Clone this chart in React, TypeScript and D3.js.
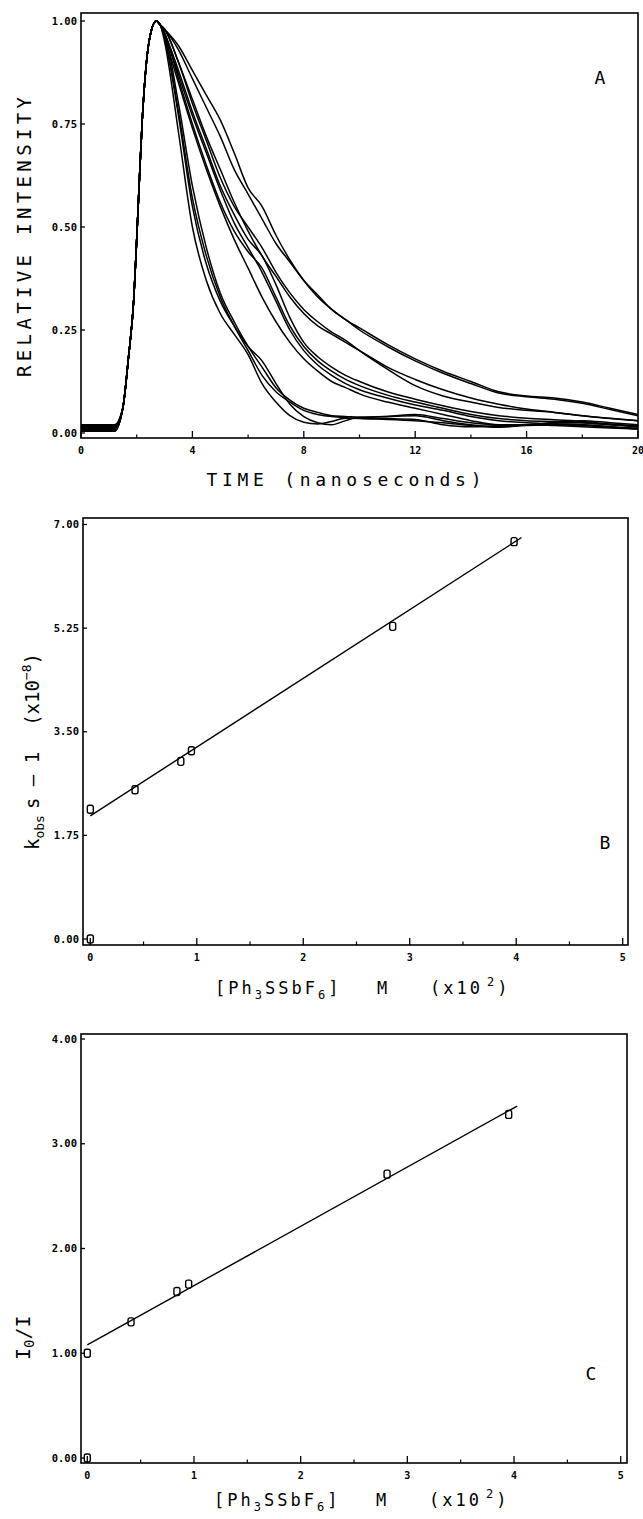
import * as d3 from "d3";

const W = 643;
const H = 1519;
const mono = "'DejaVu Sans Mono', monospace";

// ---- panel A: fluorescence decays ----
const riseTimes = [1.2, 1.5, 1.7, 1.9, 2.0, 2.1, 2.2, 2.35, 2.5, 2.7];
const riseValues = [null, 0.06, 0.18, 0.33, 0.47, 0.62, 0.76, 0.9, 0.97, 1.0];
const baselines = [0.005, 0.018, 0.008, 0.012, 0.004, 0.015, 0.01, 0.006, 0.02, 0.009, 0.007, 0.013];
const decayTimes = [2.85, 3, 3.5, 4, 4.5, 5, 5.5, 6, 6.5, 7, 7.5, 8, 8.5, 9, 9.5, 10, 11, 12, 13, 14, 15, 16, 17, 18, 19, 20];
const decays = [
  [0.99, 0.95, 0.73, 0.5, 0.37, 0.29, 0.24, 0.19, 0.12, 0.075, 0.042, 0.026, 0.022, 0.028, 0.036, 0.036, 0.035, 0.033, 0.02, 0.015, 0.018, 0.02, 0.018, 0.015, 0.012, 0.01],
  [0.99, 0.96, 0.77, 0.55, 0.41, 0.32, 0.26, 0.21, 0.175, 0.12, 0.07, 0.04, 0.025, 0.02, 0.03, 0.038, 0.04, 0.042, 0.03, 0.02, 0.015, 0.02, 0.022, 0.02, 0.015, 0.01],
  [0.99, 0.96, 0.78, 0.57, 0.43, 0.33, 0.26, 0.2, 0.14, 0.1, 0.075, 0.055, 0.045, 0.04, 0.037, 0.035, 0.033, 0.03, 0.025, 0.018, 0.014, 0.018, 0.02, 0.018, 0.014, 0.012],
  [0.99, 0.97, 0.8, 0.6, 0.45, 0.34, 0.27, 0.21, 0.16, 0.11, 0.08, 0.06, 0.05, 0.042, 0.04, 0.038, 0.04, 0.045, 0.035, 0.025, 0.02, 0.02, 0.025, 0.03, 0.025, 0.02],
  [0.99, 0.97, 0.87, 0.77, 0.68, 0.59, 0.51, 0.45, 0.39, 0.32, 0.25, 0.2, 0.165, 0.14, 0.12, 0.105, 0.085, 0.068, 0.055, 0.04, 0.03, 0.025, 0.022, 0.02, 0.015, 0.01],
  [0.99, 0.97, 0.86, 0.75, 0.65, 0.56, 0.49, 0.44, 0.4, 0.33, 0.26, 0.21, 0.175, 0.15, 0.13, 0.115, 0.092, 0.075, 0.06, 0.045, 0.035, 0.03, 0.028, 0.025, 0.02, 0.015],
  [0.99, 0.96, 0.85, 0.74, 0.64, 0.55, 0.47, 0.4, 0.33, 0.27, 0.22, 0.18, 0.15, 0.125, 0.11, 0.095, 0.075, 0.06, 0.045, 0.03, 0.02, 0.02, 0.025, 0.025, 0.02, 0.015],
  [0.99, 0.97, 0.88, 0.78, 0.69, 0.6, 0.53, 0.47, 0.43, 0.36, 0.28, 0.22, 0.185, 0.16, 0.14, 0.125, 0.1, 0.082, 0.066, 0.052, 0.042, 0.036, 0.032, 0.028, 0.022, 0.018],
  [0.99, 0.98, 0.9, 0.81, 0.72, 0.64, 0.56, 0.49, 0.43, 0.38, 0.33, 0.29, 0.26, 0.24, 0.22, 0.2, 0.16, 0.13, 0.105, 0.085, 0.07, 0.058, 0.05, 0.042, 0.035, 0.03],
  [0.99, 0.98, 0.9, 0.8, 0.71, 0.62, 0.55, 0.5, 0.45, 0.39, 0.34, 0.3, 0.27, 0.245, 0.225, 0.2, 0.155, 0.115, 0.09, 0.075, 0.062, 0.055, 0.05, 0.042, 0.036, 0.03],
  [0.99, 0.98, 0.94, 0.88, 0.82, 0.76, 0.68, 0.595, 0.55, 0.48, 0.42, 0.37, 0.33, 0.3, 0.275, 0.255, 0.215, 0.18, 0.15, 0.125, 0.1, 0.09, 0.085, 0.075, 0.06, 0.045],
  [0.99, 0.98, 0.93, 0.86, 0.79, 0.72, 0.64, 0.58, 0.52, 0.46, 0.415, 0.37, 0.335, 0.3, 0.275, 0.25, 0.21, 0.175, 0.145, 0.12, 0.097, 0.088, 0.082, 0.072, 0.057, 0.042],
];
const timeTicks = [0, 4, 8, 12, 16, 20];
const timeMinor = [2, 6, 10, 14, 18];
const intensityTicks = [0, 0.25, 0.5, 0.75, 1.0];

// ---- panel B: Stern-Volmer k_obs ----
const concB = [0, 0, 0.42, 0.85, 0.95, 2.84, 3.98];
const kobs = [0, 2.19, 2.52, 3.0, 3.18, 5.28, 6.71];
const fitBx = [0, 4.05];
const fitBy = [2.08, 6.78];
const kTicks = [0, 1.75, 3.5, 5.25, 7.0];

// ---- panel C: I0/I ----
const concC = [0, 0, 0.41, 0.84, 0.95, 2.81, 3.95];
const ratio = [0, 1.0, 1.3, 1.59, 1.66, 2.71, 3.28];
const fitCx = [0, 4.03];
const fitCy = [1.08, 3.36];
const ratioTicks = [0, 1, 2, 3, 4];
const concTicks = [0, 1, 2, 3, 4, 5];
const concMinor = [0.5, 1.5, 2.5, 3.5, 4.5];

type Frame = { left: number; right: number; top: number; bottom: number };

function Axes({ f, x, y, xTicks, xMinor, yTicks, yFmt }: any) {
  return (
    <g>
      <rect x={f.left} y={f.top} width={f.right - f.left} height={f.bottom - f.top} fill="none" stroke="#000" strokeWidth={1.6} />
      {xTicks.map((t: number, i: number) => (
        <g key={"xt" + i}>
          <line x1={x(t)} x2={x(t)} y1={f.bottom} y2={f.bottom - 7} stroke="#000" strokeWidth={1.3} />
          <text x={x(t)} y={f.bottom + 16} textAnchor="middle" fontSize={10} fontWeight="bold" fontFamily={mono}>
            {t}
          </text>
        </g>
      ))}
      {xMinor.map((t: number, i: number) => (
        <line key={"xm" + i} x1={x(t)} x2={x(t)} y1={f.bottom} y2={f.bottom - 3.5} stroke="#000" strokeWidth={1.2} />
      ))}
      {yTicks.map((t: number, i: number) => (
        <g key={"yt" + i}>
          <line x1={f.left} x2={f.left + 4} y1={y(t)} y2={y(t)} stroke="#000" strokeWidth={1.3} />
          <text x={f.left - 4} y={y(t)} dy="0.35em" textAnchor="end" fontSize={10.5} fontWeight="bold" fontFamily={mono}>
            {yFmt(t)}
          </text>
        </g>
      ))}
    </g>
  );
}

function Markers({ xs, ys, x, y }: any) {
  return (
    <g>
      {xs.map((c: number, i: number) => (
        <rect key={i} x={x(c) - 3} y={y(ys[i]) - 4} width={6} height={8} rx={2} fill="none" stroke="#000" strokeWidth={1.4} />
      ))}
    </g>
  );
}

function ConcLabel({ x, y }: { x: number; y: number }) {
  return (
    <text x={x} y={y} fontFamily={mono} fontSize={17} letterSpacing={3}>
      [Ph<tspan fontSize={12} dy={5}>3</tspan>
      <tspan dy={-5}>SSbF</tspan>
      <tspan fontSize={12} dy={5}>6</tspan>
      <tspan dy={-5}>]</tspan>
      <tspan x={x + 162}>M</tspan>
      <tspan x={x + 215}>(x10</tspan>
      <tspan fontSize={12} dx={4} dy={-8}>2</tspan>
      <tspan dy={8}>)</tspan>
    </text>
  );
}

export default function App() {
  // panel A
  const fA: Frame = { left: 81, right: 638, top: 13, bottom: 438 };
  const xA = d3.scaleLinear().domain([0, 20]).range([81, 638]);
  const yA = d3.scaleLinear().domain([0, 1]).range([433, 21]);
  const lineA = d3
    .line<[number, number]>()
    .x((d) => xA(d[0]))
    .y((d) => yA(d[1]))
    .curve(d3.curveMonotoneX);
  const curves = decays.map((vals, k) => {
    const pts: [number, number][] = [[0, baselines[k]], [riseTimes[0], baselines[k]]];
    riseTimes.forEach((t, i) => {
      if (riseValues[i] !== null) pts.push([t, riseValues[i] as number]);
    });
    decayTimes.forEach((t, i) => pts.push([t, vals[i]]));
    return pts;
  });

  // panel B
  const fB: Frame = { left: 83, right: 628, top: 518, bottom: 945 };
  const xB = d3.scaleLinear().domain([0, 5]).range([90.3, 622.7]);
  const yB = d3.scaleLinear().domain([0, 7]).range([939, 524.5]);

  // panel C
  const fC: Frame = { left: 81, right: 627, top: 1034, bottom: 1463 };
  const xC = d3.scaleLinear().domain([0, 5]).range([87.3, 620.7]);
  const yC = d3.scaleLinear().domain([0, 4]).range([1458, 1039]);

  const fmt2 = d3.format(".2f");
  const titleStyle = { fontFamily: mono, fontSize: 18 };

  return (
    <svg width={W} height={H} style={{ position: "absolute", left: 0, top: 0, background: "#fff" }}>
      <rect width={W} height={H} fill="#fff" />

      {/* A */}
      <Axes f={fA} x={xA} y={yA} xTicks={timeTicks} xMinor={timeMinor} yTicks={intensityTicks} yFmt={fmt2} />
      <g fill="none" stroke="#000" strokeWidth={1.5}>
        {curves.map((c, i) => (
          <path key={i} d={lineA(c) as string} />
        ))}
      </g>
      <text x={600} y={84} textAnchor="middle" {...titleStyle}>A</text>
      <text x={344} y={486} textAnchor="middle" textLength={275} lengthAdjust="spacing" {...titleStyle}>
        TIME (nanoseconds)
      </text>
      <text transform="translate(31,237) rotate(-90)" textAnchor="middle" textLength={280} lengthAdjust="spacing" {...titleStyle} fontSize={19}>
        RELATIVE INTENSITY
      </text>

      {/* B */}
      <Axes f={fB} x={xB} y={yB} xTicks={concTicks} xMinor={concMinor} yTicks={kTicks} yFmt={fmt2} />
      <line x1={xB(fitBx[0])} y1={yB(fitBy[0])} x2={xB(fitBx[1])} y2={yB(fitBy[1])} stroke="#000" strokeWidth={1.4} />
      <Markers xs={concB} ys={kobs} x={xB} y={yB} />
      <text x={605} y={849} textAnchor="middle" {...titleStyle}>B</text>
      <ConcLabel x={215} y={994} />
      <text transform="translate(39,850) rotate(-90)" {...titleStyle} fontSize={19}>
        k<tspan fontSize={13} dy={5}>obs</tspan>
        <tspan dy={-5} dx={6}>s — 1</tspan>
        <tspan dx={26}>(x10</tspan>
        <tspan fontSize={13} dy={-8}>−8</tspan>
        <tspan dy={8}>)</tspan>
      </text>

      {/* C */}
      <Axes f={fC} x={xC} y={yC} xTicks={concTicks} xMinor={concMinor} yTicks={ratioTicks} yFmt={fmt2} />
      <line x1={xC(fitCx[0])} y1={yC(fitCy[0])} x2={xC(fitCx[1])} y2={yC(fitCy[1])} stroke="#000" strokeWidth={1.4} />
      <Markers xs={concC} ys={ratio} x={xC} y={yC} />
      <text x={591} y={1380} textAnchor="middle" {...titleStyle}>C</text>
      <ConcLabel x={214} y={1506} />
      <text transform="translate(30,1360) rotate(-90)" {...titleStyle} fontSize={20}>
        I<tspan fontSize={14} dy={4}>0</tspan>
        <tspan dy={-4}>/I</tspan>
      </text>
    </svg>
  );
}
